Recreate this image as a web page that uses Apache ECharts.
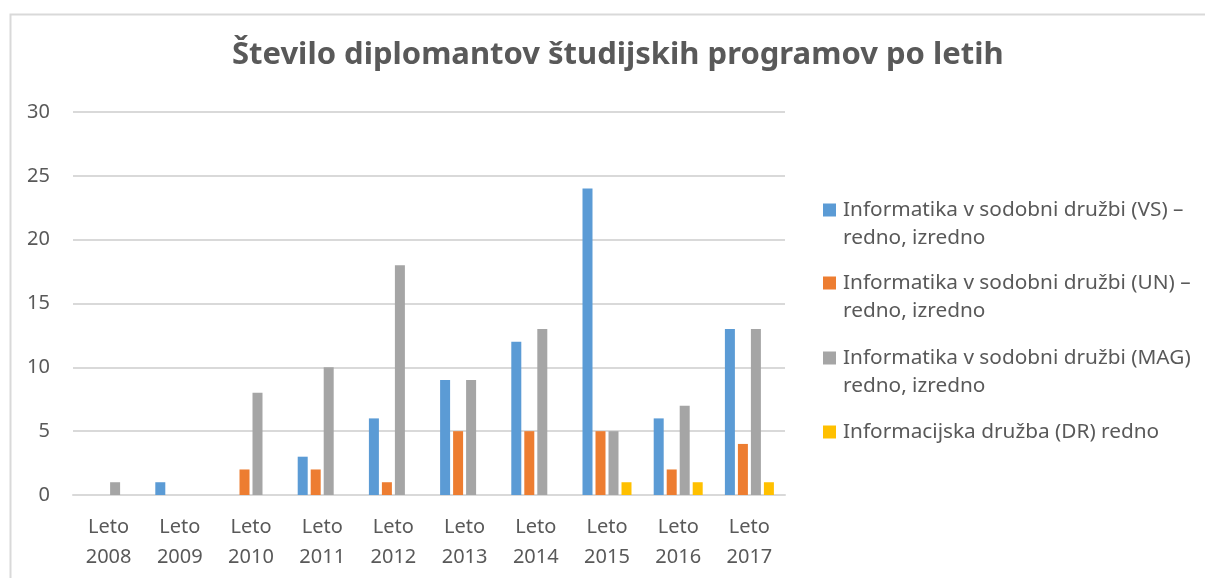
<!DOCTYPE html>
<html lang="sl">
<head>
	<meta charset="UTF-8">
	<title>Število diplomantov študijskih programov po letih</title>
    <style>
        html, body { margin: 0; padding: 0; background: #fff; }
        #chart { width: 1205px; height: 578px; }
    </style>
</head>
<body>
	<div id="chart"></div>
	<script type="text/javascript" src="https://cdn.jsdelivr.net/npm/echarts/dist/echarts.min.js"></script>
    <script type="text/javascript">
        var years = ['Leto\n2008', 'Leto\n2009', 'Leto\n2010', 'Leto\n2011', 'Leto\n2012',
                     'Leto\n2013', 'Leto\n2014', 'Leto\n2015', 'Leto\n2016', 'Leto\n2017'];
        var seriesNames = [
            'Informatika v sodobni družbi (VS) – redno, izredno',
            'Informatika v sodobni družbi (UN) – redno, izredno',
            'Informatika v sodobni družbi (MAG) redno, izredno',
            'Informacijska družba (DR) redno'
        ];
        // legend text as wrapped in the original
        var legendLabels = [
            'Informatika v sodobni družbi (VS) –\nredno, izredno',
            'Informatika v sodobni družbi (UN) –\nredno, izredno',
            'Informatika v sodobni družbi (MAG)\nredno, izredno',
            'Informacijska družba (DR) redno'
        ];
        var vs  = [0, 1, 0, 3, 6, 9, 12, 24, 6, 13];
        var un  = [0, 0, 2, 2, 1, 5, 5, 5, 2, 4];
        var mag = [1, 0, 8, 10, 18, 9, 13, 5, 7, 13];
        var dr  = [0, 0, 0, 0, 0, 0, 0, 1, 1, 1];
        var colors = ['#5b9bd5', '#ed7d31', '#a5a5a5', '#ffc000'];

        var font = 'Noto Sans';
        var txt = '#595959';

        var myChart = echarts.init(document.getElementById('chart'));

        function legendAt(i, top) {
            var twoLines = legendLabels[i].indexOf('\n') >= 0;
            return {
                orient: 'vertical',
                left: 823,
                top: top,
                padding: 0,
                itemWidth: 13,
                itemHeight: 13,
                icon: 'rect',
                data: [seriesNames[i]],
                // blank first line so the marker sits on the first text line
                formatter: function () { return twoLines ? ' \n' + legendLabels[i] : legendLabels[i]; },
                textStyle: {
                    fontFamily: font,
                    fontSize: 20.8,
                    color: txt,
                    lineHeight: 28,
                    padding: [0, 0, 0, 2]
                }
            };
        }

        function bar(i, values) {
            return {
                name: seriesNames[i],
                type: 'bar',
                data: values,
                barWidth: 10,
                barGap: '30%',
                itemStyle: { color: colors[i] }
            };
        }

        var option = {
            animation: false,
            color: colors,
            title: {
                text: 'Število diplomantov študijskih programov po letih',
                left: 227,
                top: 35,
                textStyle: {
                    fontFamily: font,
                    fontSize: 31,
                    fontWeight: 'bold',
                    color: txt
                }
            },
            graphic: [{
                type: 'rect',
                left: 8,
                top: 12,
                shape: { width: 1300, height: 700 },
                style: { fill: 'none', stroke: '#d9d9d9', lineWidth: 2 },
                silent: true
            }],
            legend: [
                legendAt(0, 168),
                legendAt(1, 241),
                legendAt(2, 316),
                legendAt(3, 418)
            ],
            grid: {
                left: 73,
                right: 420,
                top: 112,
                bottom: 83
            },
            xAxis: {
                type: 'category',
                data: years,
                axisLine: { lineStyle: { color: '#d9d9d9', width: 2 } },
                axisTick: { show: false },
                axisLabel: {
                    fontFamily: font,
                    fontSize: 20,
                    color: txt,
                    lineHeight: 30,
                    margin: 17
                }
            },
            yAxis: {
                type: 'value',
                min: 0,
                max: 30,
                interval: 5,
                axisLine: { show: false },
                axisTick: { show: false },
                splitLine: { lineStyle: { color: '#d9d9d9', width: 2 } },
                axisLabel: {
                    fontFamily: font,
                    fontSize: 20,
                    color: txt,
                    margin: 23
                }
            },
            series: [bar(0, vs), bar(1, un), bar(2, mag), bar(3, dr)]
        };
        myChart.setOption(option);
    </script>
</body>
</html>
